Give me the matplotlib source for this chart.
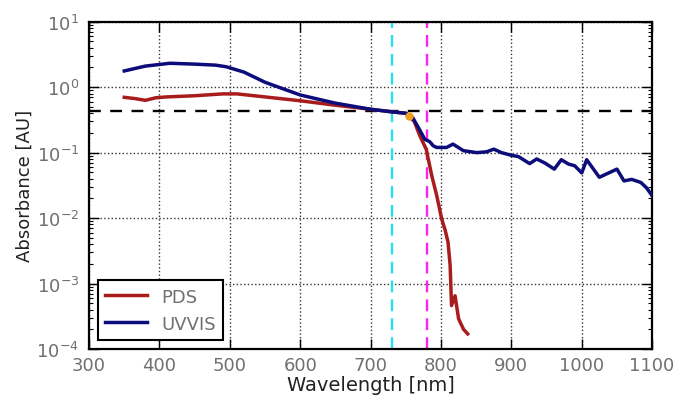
import matplotlib
matplotlib.use("Agg")
import matplotlib.pyplot as plt
import numpy as np

# PDS spectrum (wavelength nm, absorbance AU)
pds_wl = [350, 365, 380, 395, 410, 450, 490, 510, 550, 600, 650, 700, 730,
          750, 762, 770, 779, 787, 794, 801, 806, 810, 813, 815, 820, 825, 832, 838]
pds_abs = [0.70, 0.67, 0.63, 0.69, 0.71, 0.74, 0.79, 0.79, 0.71, 0.62, 0.53,
           0.46, 0.42, 0.40, 0.30, 0.18, 0.113, 0.044, 0.022, 0.0097, 0.0065,
           0.0043, 0.0019, 0.00046, 0.00065, 0.00029, 0.00020, 0.00017]

# UV-VIS spectrum
uv_wl = [350, 380, 415, 450, 480, 495, 520, 550, 575, 600, 650, 700, 730, 750,
         760, 770, 777, 784, 789, 794, 808, 817, 832, 851, 865, 875, 886, 900,
         910, 926, 936, 948, 961, 971, 981, 990, 1000, 1007, 1025, 1050, 1060,
         1071, 1084, 1092, 1100]
uv_abs = [1.77, 2.1, 2.32, 2.25, 2.17, 2.05, 1.70, 1.19, 0.95, 0.76, 0.57, 0.46,
          0.42, 0.40, 0.34, 0.22, 0.16, 0.147, 0.127, 0.12, 0.12, 0.135, 0.107,
          0.10, 0.103, 0.113, 0.10, 0.091, 0.087, 0.068, 0.080, 0.069, 0.056,
          0.078, 0.067, 0.063, 0.049, 0.078, 0.042, 0.056, 0.037, 0.039, 0.035,
          0.029, 0.022]

h_level = 0.43
v_cyan = 730
v_magenta = 780
dot_wl, dot_abs = 754, 0.36

plt.rcParams['font.family'] = ['DejaVu Sans']
fig = plt.figure(figsize=(6.8, 4.06), dpi=100)
ax = fig.add_axes([0.131, 0.138, 0.828, 0.806])

ax.plot(pds_wl, pds_abs, color='#a81c1c', lw=2.5, label='PDS', zorder=3)
ax.plot(uv_wl, uv_abs, color='#0c0c7a', lw=2.5, label='UVVIS', zorder=4)
ax.axhline(h_level, color='black', ls=(0, (5, 4)), lw=1.7, zorder=2)
ax.axvline(v_cyan, color='#22e0f0', ls=(0, (5, 3)), lw=1.7, zorder=2)
ax.axvline(v_magenta, color='#ff22ee', ls=(0, (5, 3)), lw=1.7, zorder=2)
ax.plot([dot_wl], [dot_abs], 'o', color='#f0a020', ms=5, zorder=5)

ax.set_yscale('log')
ax.set_xlim(300, 1100)
ax.set_ylim(1e-4, 10)
ax.set_xticks(np.arange(300, 1101, 100))

ax.grid(True, which='major', color='#333333', ls=':', lw=1.0)
ax.tick_params(which='both', direction='in', top=True, right=True,
               labelsize=13, labelcolor='#707070')
ax.tick_params(axis='y', which='major', pad=7)
ax.tick_params(axis='x', which='major', pad=5)
ax.tick_params(which='major', length=7, width=1)
ax.tick_params(which='minor', length=3, width=0.8)
for s in ax.spines.values():
    s.set_linewidth(1.6)

ax.set_xlabel('Wavelength [nm]', fontsize=14, labelpad=1, color='#222222')
ax.set_ylabel('Absorbance [AU]', fontsize=13, labelpad=2, color='#222222')

leg = ax.legend(loc='lower left', fontsize=13, handlelength=2.3,
                fancybox=False, framealpha=1, borderaxespad=0.5,
                labelcolor='#707070')
leg.get_frame().set_edgecolor('black')
leg.get_frame().set_linewidth(1.5)

fig.savefig('out.png', dpi=100)
